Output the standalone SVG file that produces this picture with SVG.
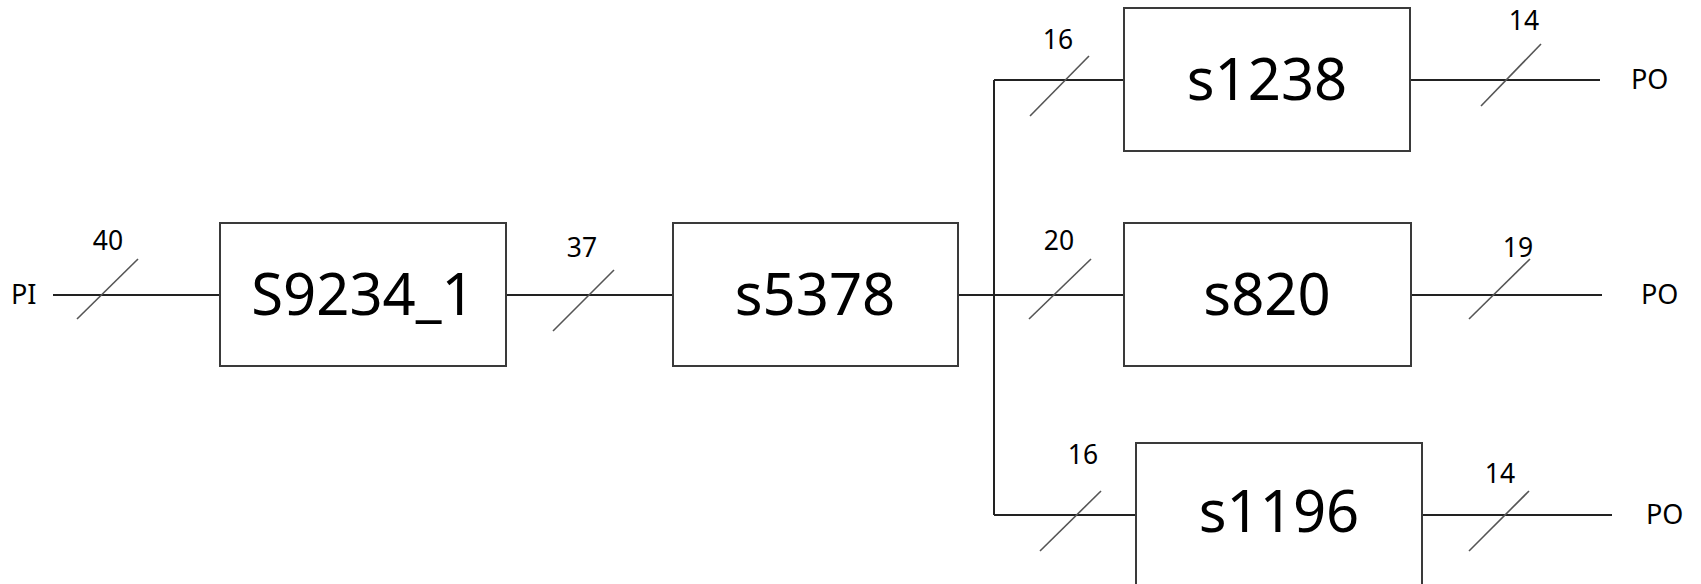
<svg xmlns="http://www.w3.org/2000/svg" width="1701" height="584" viewBox="0 0 1701 584">
<style>
.box{fill:#fff;stroke:#3a3a3a;stroke-width:2}
.lbl{font-family:"Noto Sans","Liberation Sans",sans-serif;font-size:58px;fill:#000;text-anchor:middle}
.wire{stroke:#222;stroke-width:2;fill:none}
.bus{stroke:#555;stroke-width:1.6;fill:none}
.num{font-family:"Noto Sans","Liberation Sans",sans-serif;font-size:26.5px;fill:#000;text-anchor:middle}
.io{font-family:"Noto Sans","Liberation Sans",sans-serif;font-size:27px;fill:#000}
</style>
<rect width="1701" height="584" fill="#fff"/>
<g id="connectors">
  <path class="wire" d="M53 295H220"/>
  <path class="wire" d="M506 295H673"/>
  <path class="wire" d="M958 295H994" stroke-width="3"/>
  <path class="wire" d="M994 80V515"/>
  <path class="wire" d="M994 80H1124"/>
  <path class="wire" d="M994 295H1124"/>
  <path class="wire" d="M994 515H1136"/>
  <path class="wire" d="M1410 80H1600"/>
  <path class="wire" d="M1411 295H1602"/>
  <path class="wire" d="M1422 515H1612"/>
  <path class="bus" d="M77 319L138 259"/>
  <path class="bus" d="M553 331L614 270"/>
  <path class="bus" d="M1029 319L1091 259"/>
  <path class="bus" d="M1469 319L1530 259"/>
  <path class="bus" d="M1030 116L1089 56"/>
  <path class="bus" d="M1481 106L1541 44"/>
  <path class="bus" d="M1040 551L1101 491"/>
  <path class="bus" d="M1469 551L1529 491"/>
  <text class="num" x="108" y="250">40</text>
  <text class="num" x="582" y="257">37</text>
  <text class="num" x="1059" y="250">20</text>
  <text class="num" x="1518" y="257">19</text>
  <text class="num" x="1058" y="49">16</text>
  <text class="num" x="1524" y="30">14</text>
  <text class="num" x="1083" y="464">16</text>
  <text class="num" x="1500" y="483">14</text>
  <text class="io" x="11" y="304">PI</text>
  <text class="io" x="1631" y="89">PO</text>
  <text class="io" x="1641" y="304">PO</text>
  <text class="io" x="1646" y="524">PO</text>
</g>
<g id="S9234_1">
  <rect class="box" x="220" y="223" width="286" height="143"/>
  <text class="lbl" x="363" y="315">S9234_1</text>
</g>
<g id="s5378">
  <rect class="box" x="673" y="223" width="285" height="143"/>
  <text class="lbl" x="815" y="315">s5378</text>
</g>
<g id="s1238">
  <rect class="box" x="1124" y="8" width="286" height="143"/>
  <text class="lbl" x="1267" y="100">s1238</text>
</g>
<g id="s820">
  <rect class="box" x="1124" y="223" width="287" height="143"/>
  <text class="lbl" x="1267" y="315">s820</text>
</g>
<g id="s1196">
  <rect class="box" x="1136" y="443" width="286" height="145"/>
  <text class="lbl" x="1279" y="532">s1196</text>
</g>
</svg>
